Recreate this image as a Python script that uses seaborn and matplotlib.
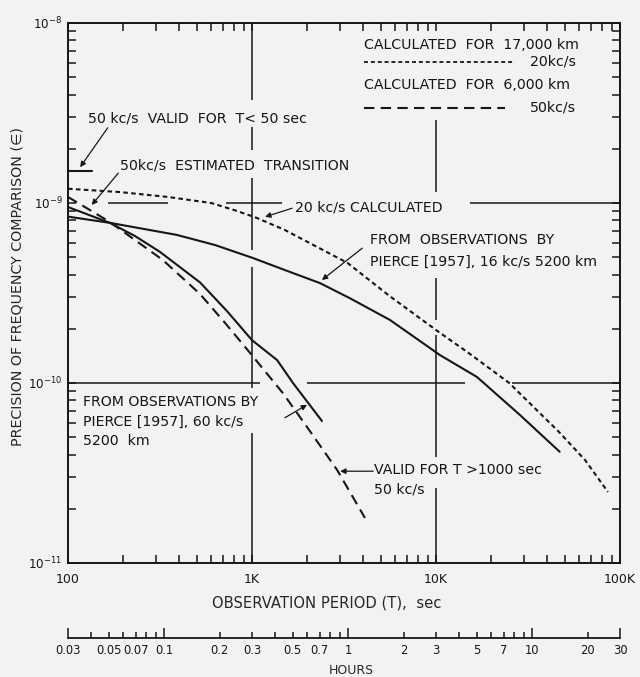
import matplotlib
matplotlib.use("Agg")
import matplotlib.pyplot as plt
import seaborn as sns
from matplotlib.ticker import FixedLocator, FixedFormatter, NullFormatter, LogLocator

# ---------------- data ----------------
t_20kc_calc = [100, 192, 350, 600, 810, 1050, 1500, 3300, 5600, 10000, 15300, 25000, 47000, 64600, 86000]
e_20kc_calc = [1.20e-9, 1.15e-9, 1.08e-9, 1.00e-9, 9.1e-10, 8.3e-10, 7.1e-10, 4.65e-10, 3.04e-10,
               1.97e-10, 1.45e-10, 1.00e-10, 5.3e-11, 3.73e-11, 2.48e-11]

t_16kc_obs = [100, 170, 390, 630, 1010, 1510, 2340, 3400, 5620, 10500, 16700, 28600, 47000]
e_16kc_obs = [8.4e-10, 7.75e-10, 6.65e-10, 5.84e-10, 4.95e-10, 4.24e-10, 3.59e-10, 2.96e-10,
              2.24e-10, 1.43e-10, 1.08e-10, 6.64e-11, 4.15e-11]

t_60kc_obs = [100, 169, 231, 316, 522, 731, 1000, 1370, 1670, 2400]
e_60kc_obs = [9.5e-10, 7.75e-10, 6.56e-10, 5.35e-10, 3.62e-10, 2.51e-10, 1.73e-10, 1.34e-10,
              1.0e-10, 6.15e-11]

t_50kc_calc = [100, 169, 231, 328, 522, 713, 975, 1470, 1990, 2900, 4110]
e_50kc_calc = [1.08e-9, 7.84e-10, 6.23e-10, 4.82e-10, 3.12e-10, 2.16e-10, 1.47e-10, 8.8e-11,
               5.7e-11, 3.29e-11, 1.78e-11]

t_50kc_short = [100, 135]
e_50kc_short = [1.5e-9, 1.5e-9]

x_ticks = [100, 1000, 10000, 100000]
x_ticklabels = ["100", "1K", "10K", "100K"]
y_ticks = [1e-11, 1e-10, 1e-9, 1e-8]
y_ticklabels = [r"$10^{-11}$", r"$10^{-10}$", r"$10^{-9}$", r"$10^{-8}$"]

hour_major = [0.03, 0.1, 1, 10, 30]
hour_minor = [0.04, 0.05, 0.06, 0.07, 0.08, 0.09, 0.2, 0.3, 0.4, 0.5, 0.6, 0.7, 0.8, 0.9,
              2, 3, 4, 5, 6, 7, 8, 9, 20]
hour_minor_labels = ["", "0.05", "", "0.07", "", "", "0.2", "0.3", "", "0.5", "", "0.7", "", "",
                     "2", "3", "", "5", "", "7", "", "", "20"]
hour_major_labels = ["0.03", "0.1", "1", "10", "30"]

# partial reference lines (value, list of (start, end))
hgrid = [(1e-9, [(165, 350), (722, 1455), (15300, 100000)]),
         (1e-10, [(100, 1104), (1991, 14390), (25880, 100000)])]
vgrid = [(1000, [(3.73e-9, 1e-8), (1.97e-9, 2.64e-9), (5.48e-10, 1.38e-9),
                 (9.38e-11, 4.41e-10), (1e-11, 5.27e-11)]),
         (10000, [(1.15e-9, 2.89e-9), (2.24e-10, 3.83e-10), (3.88e-11, 1.85e-10),
                  (1e-11, 2.61e-11)])]

# ---------------- style ----------------
sns.set_theme(style="ticks")
BG = "#f2f2f2"
INK = "#161616"
plt.rcParams["font.family"] = ["DejaVu Sans"]
plt.rcParams["mathtext.default"] = "regular"
plt.rcParams["figure.facecolor"] = BG
plt.rcParams["axes.facecolor"] = BG
plt.rcParams["text.color"] = INK
plt.rcParams["axes.edgecolor"] = INK
plt.rcParams["xtick.color"] = INK
plt.rcParams["ytick.color"] = INK

fig = plt.figure(figsize=(6.4, 6.77), dpi=100)
W, H = 640, 677
ax = fig.add_axes([68 / W, 1 - 563 / H, 552 / W, 540 / H])

LW = 1.5
sns.lineplot(x=t_20kc_calc, y=e_20kc_calc, ax=ax, color=INK, lw=LW, sort=False,
             estimator=None, linestyle=(0, (2.2, 1.6)))
sns.lineplot(x=t_16kc_obs, y=e_16kc_obs, ax=ax, color=INK, lw=LW, sort=False, estimator=None)
sns.lineplot(x=t_60kc_obs, y=e_60kc_obs, ax=ax, color=INK, lw=LW, sort=False, estimator=None)
sns.lineplot(x=t_50kc_calc, y=e_50kc_calc, ax=ax, color=INK, lw=LW, sort=False,
             estimator=None, linestyle=(0, (5, 3)))
sns.lineplot(x=t_50kc_short, y=e_50kc_short, ax=ax, color=INK, lw=LW, sort=False, estimator=None)

for val, segs in hgrid:
    for a, b in segs:
        ax.hlines(val, a, b, color=INK, lw=1.1)
for val, segs in vgrid:
    for a, b in segs:
        ax.vlines(val, a, b, color=INK, lw=1.1)

ax.set_xscale("log")
ax.set_yscale("log")
ax.set_xlim(100, 100000)
ax.set_ylim(1e-11, 1e-8)

ax.xaxis.set_major_locator(FixedLocator(x_ticks))
ax.xaxis.set_major_formatter(FixedFormatter(x_ticklabels))
ax.xaxis.set_minor_locator(LogLocator(base=10, subs=range(2, 10)))
ax.xaxis.set_minor_formatter(NullFormatter())
ax.yaxis.set_major_locator(FixedLocator(y_ticks))
ax.yaxis.set_major_formatter(FixedFormatter(y_ticklabels))
ax.yaxis.set_minor_locator(LogLocator(base=10, subs=range(2, 10)))
ax.yaxis.set_minor_formatter(NullFormatter())

ax.tick_params(which="both", direction="in", top=True, right=True, width=1.1, labelsize=9)
ax.tick_params(which="major", length=6)
ax.tick_params(which="minor", length=5.5)
ax.tick_params(axis="x", pad=7)
ax.tick_params(axis="y", pad=4, labelsize=8.6)
for s in ax.spines.values():
    s.set_linewidth(1.4)

ax.set_xlabel("OBSERVATION PERIOD (T),  sec", fontsize=10.6)
ax.xaxis.set_label_coords(327 / W, 1 - 596 / H, transform=fig.transFigure)
ax.set_ylabel("PRECISION OF FREQUENCY COMPARISON (\u2208)", fontsize=10.3)
ax.yaxis.set_label_coords(25 / W, 1 - 287 / H, transform=fig.transFigure)

# legend block
TF = 10.2
ta = ax.transAxes
ax.text(0.536, 0.959, "CALCULATED  FOR  17,000 km", transform=ta, fontsize=TF, va="center")
ax.plot([0.536, 0.810], [0.928, 0.928], transform=ta, color=INK, lw=1.3, linestyle=(0, (2.2, 1.6)))
ax.text(0.837, 0.928, "20kc/s", transform=ta, fontsize=TF, va="center")
ax.text(0.536, 0.885, "CALCULATED  FOR  6,000 km", transform=ta, fontsize=TF, va="center")
ax.plot([0.536, 0.792], [0.843, 0.843], transform=ta, color=INK, lw=1.5, linestyle=(0, (5, 3)))
ax.text(0.837, 0.843, "50kc/s", transform=ta, fontsize=TF, va="center")

arrow = dict(arrowstyle="-|>", color=INK, lw=0.9, mutation_scale=8, shrinkA=0, shrinkB=0)

ax.text(0.036, 0.824, "50 kc/s  VALID  FOR  T< 50 sec", transform=ta, fontsize=TF, va="center")
ax.annotate("", xy=(0.022, 0.733), xytext=(0.072, 0.806), xycoords=ta, textcoords=ta, arrowprops=arrow)

ax.text(0.094, 0.737, "50kc/s  ESTIMATED  TRANSITION", transform=ta, fontsize=TF, va="center")
ax.annotate("", xy=(0.043, 0.663), xytext=(0.091, 0.722), xycoords=ta, textcoords=ta, arrowprops=arrow)

ax.text(0.411, 0.659, "20 kc/s CALCULATED", transform=ta, fontsize=TF, va="center")
ax.annotate("", xy=(0.357, 0.641), xytext=(0.406, 0.657), xycoords=ta, textcoords=ta, arrowprops=arrow)

ax.text(0.547, 0.598, "FROM  OBSERVATIONS  BY", transform=ta, fontsize=TF, va="center")
ax.text(0.547, 0.557, "PIERCE [1957], 16 kc/s 5200 km", transform=ta, fontsize=TF, va="center")
ax.annotate("", xy=(0.460, 0.524), xytext=(0.533, 0.583), xycoords=ta, textcoords=ta, arrowprops=arrow)

ax.text(0.027, 0.298, "FROM OBSERVATIONS BY", transform=ta, fontsize=TF, va="center")
ax.text(0.027, 0.261, "PIERCE [1957], 60 kc/s", transform=ta, fontsize=TF, va="center")
ax.text(0.027, 0.226, "5200  km", transform=ta, fontsize=TF, va="center")
ax.annotate("", xy=(0.433, 0.293), xytext=(0.393, 0.269), xycoords=ta, textcoords=ta, arrowprops=arrow)

ax.text(0.554, 0.172, "VALID FOR T >1000 sec", transform=ta, fontsize=TF, va="center")
ax.text(0.554, 0.137, "50 kc/s", transform=ta, fontsize=TF, va="center")
ax.annotate("", xy=(0.493, 0.170), xytext=(0.553, 0.170), xycoords=ta, textcoords=ta, arrowprops=arrow)

# hours axis
axh = fig.add_axes([68 / W, 1 - 638 / H, 552 / W, 8 / H])
axh.set_facecolor("none")
axh.set_xscale("log")
axh.set_xlim(0.03, 30)
axh.set_yticks([])
for side in ["top", "left", "right"]:
    axh.spines[side].set_visible(False)
axh.spines["bottom"].set_linewidth(1.3)
axh.xaxis.set_major_locator(FixedLocator(hour_major))
axh.xaxis.set_major_formatter(FixedFormatter(hour_major_labels))
axh.xaxis.set_minor_locator(FixedLocator(hour_minor))
axh.xaxis.set_minor_formatter(FixedFormatter(hour_minor_labels))
axh.tick_params(which="both", direction="in", width=1.1, labelsize=8.3, pad=4)
axh.tick_params(which="major", length=7)
axh.tick_params(which="minor", length=4)
axh.set_xlabel("HOURS", fontsize=9)
axh.xaxis.set_label_coords(351 / W, 1 - 664 / H, transform=fig.transFigure)

fig.savefig("out.png", dpi=100, facecolor=BG)
